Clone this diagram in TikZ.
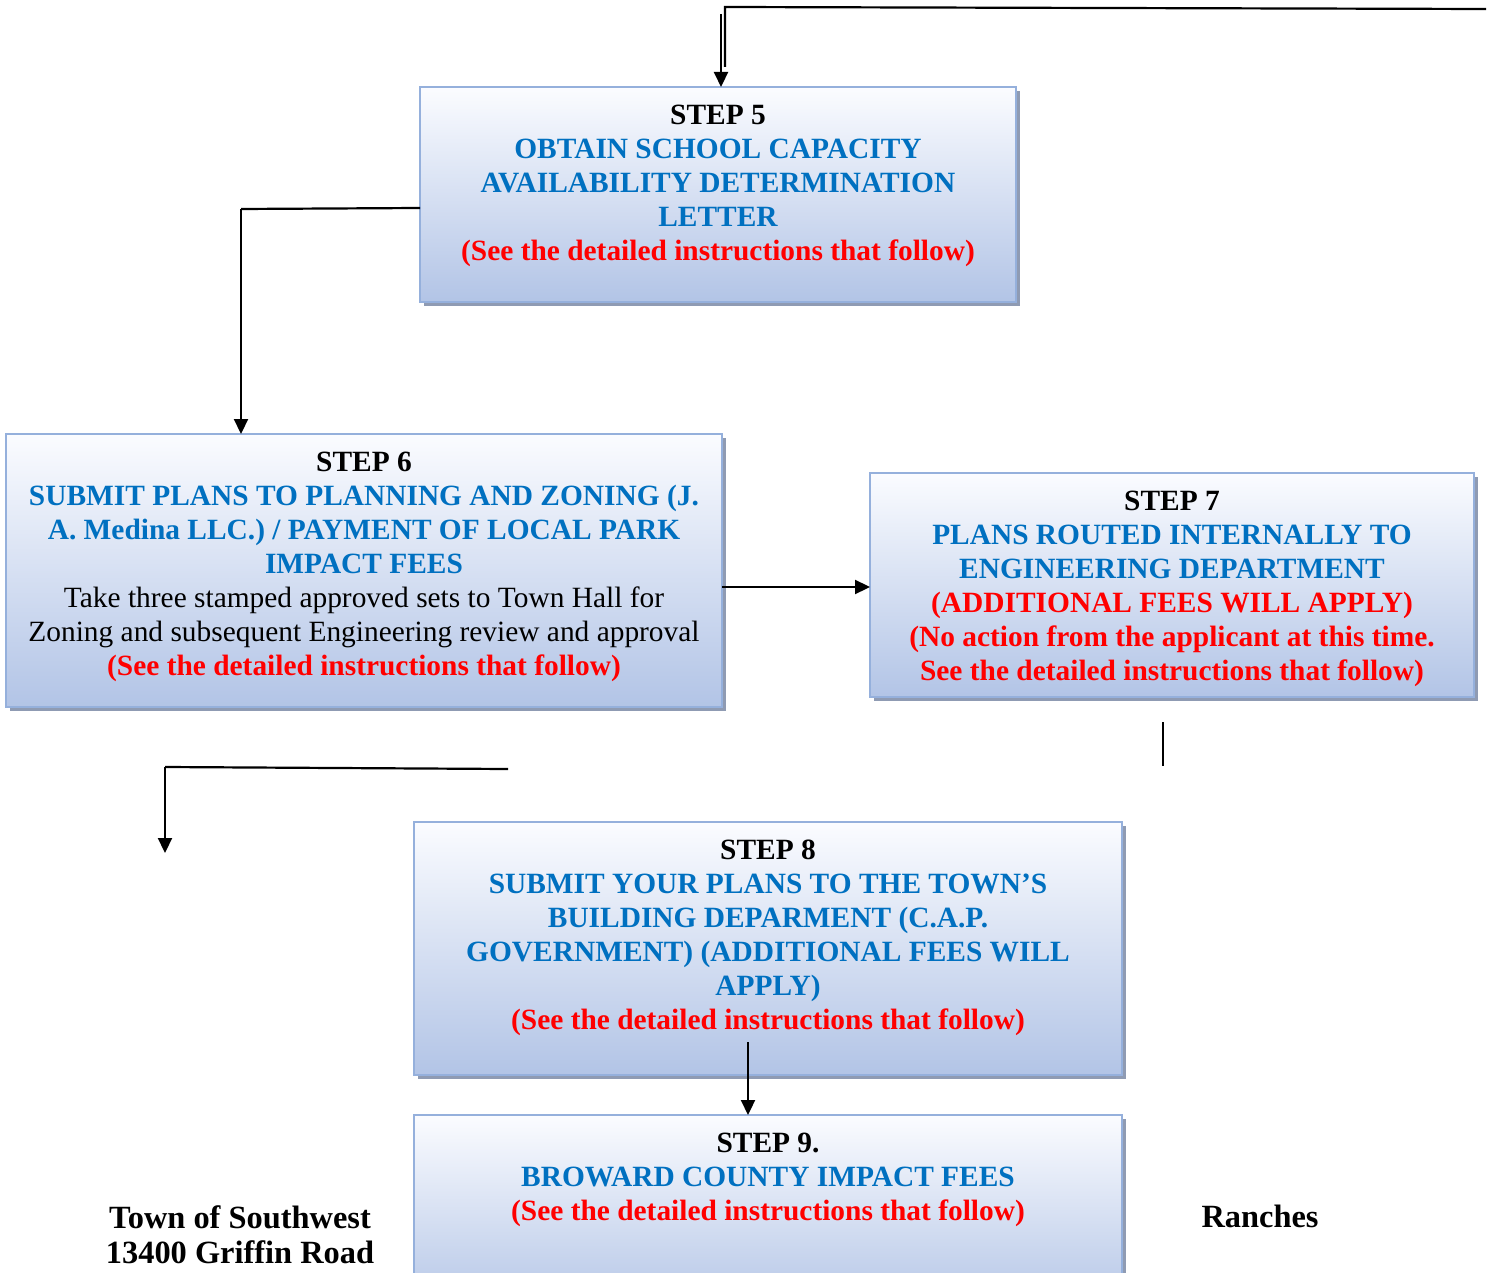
\documentclass[tikz,border=0pt]{standalone}
\usepackage{fontspec}
\setmainfont{Liberation Serif}
\usetikzlibrary{arrows.meta,shadows,calc}
\definecolor{tblue}{HTML}{0070C0}
\definecolor{tred}{HTML}{FF0000}
\definecolor{bborder}{HTML}{95B0DC}
\definecolor{btop}{HTML}{FBFCFF}
\definecolor{bbot}{HTML}{B2C4E6}
\definecolor{bshadow}{HTML}{8F9BB3}
\begin{document}
\begin{tikzpicture}[x=0.5pt,y=-0.5pt,
  stepbox/.style={draw=bborder, line width=1.2pt, top color=btop, bottom color=bbot,
    inner sep=0pt, outer sep=0pt, anchor=north west,
    drop shadow={shadow xshift=2pt, shadow yshift=-2pt, fill=bshadow, opacity=1}},
  steptext/.style={anchor=north, inner sep=0pt, align=center,
    font=\fontsize{14.7}{17}\selectfont\bfseries},
  addrtext/.style={anchor=north, inner sep=0pt, align=center,
    font=\fontsize{16.2}{17.5}\selectfont\bfseries},
  conn/.style={line width=1.1pt, draw=black},
  arr/.style={conn, -{Triangle[length=7.5pt,width=7pt]}},
]
\path[use as bounding box, clip] (0,0) rectangle (1491,1272);

% boxes
\node[stepbox, minimum width=298pt, minimum height=107.5pt] (s5) at (420,87) {};
\node[stepbox, minimum width=358pt, minimum height=136.5pt] (s6) at (6,434) {};
\node[stepbox, minimum width=302pt, minimum height=112pt] (s7) at (870,473) {};
\node[stepbox, minimum width=354pt, minimum height=126.5pt] (s8) at (414,822) {};
\node[stepbox, minimum width=354pt, minimum height=100pt] (s9) at (414,1115) {};

% texts
\node[steptext] (t5) at ($(s5.north)+(0,18)$) {STEP 5\\
  \textcolor{tblue}{OBTAIN SCHOOL CAPACITY}\\
  \textcolor{tblue}{AVAILABILITY DETERMINATION}\\
  \textcolor{tblue}{LETTER}\\
  \textcolor{tred}{(See the detailed instructions that follow)}};
\node[steptext] (t6) at ($(s6.north)+(0,18)$) {STEP 6\\
  \textcolor{tblue}{SUBMIT PLANS TO PLANNING AND ZONING (J.}\\
  \textcolor{tblue}{A. Medina LLC.) / PAYMENT OF LOCAL PARK}\\
  \textcolor{tblue}{IMPACT FEES}\\
  {\mdseries Take three stamped approved sets to Town Hall for}\\
  {\mdseries Zoning and subsequent Engineering review and approval}\\
  \textcolor{tred}{(See the detailed instructions that follow)}};
\node[steptext] (t7) at ($(s7.north)+(0,18)$) {STEP 7\\
  \textcolor{tblue}{PLANS ROUTED INTERNALLY TO}\\
  \textcolor{tblue}{ENGINEERING DEPARTMENT}\\
  \textcolor{tred}{(ADDITIONAL FEES WILL APPLY)}\\
  \textcolor{tred}{(No action from the applicant at this time.}\\
  \textcolor{tred}{See the detailed instructions that follow)}};
\node[steptext] (t8) at ($(s8.north)+(0,18)$) {STEP 8\\
  \textcolor{tblue}{SUBMIT YOUR PLANS TO THE TOWN’S}\\
  \textcolor{tblue}{BUILDING DEPARMENT (C.A.P.}\\
  \textcolor{tblue}{GOVERNMENT) (ADDITIONAL FEES WILL}\\
  \textcolor{tblue}{APPLY)}\\
  \textcolor{tred}{(See the detailed instructions that follow)}};
\node[steptext] (t9) at ($(s9.north)+(0,18)$) {STEP 9.\\
  \textcolor{tblue}{BROWARD COUNTY IMPACT FEES}\\
  \textcolor{tred}{(See the detailed instructions that follow)}};

\node[addrtext] (town) at (240,1205) {Town of Southwest\\13400 Griffin Road};
\node[addrtext] (ranch) at (1260,1205) {Ranches};

% connector coordinates
\coordinate (c0) at (1486,9);
\coordinate (c1) at (725,7);
\coordinate (c2) at (725,67);
\coordinate (c3) at (721,14);
\coordinate (k1) at (420,208);
\coordinate (k2) at (241,209);
\coordinate (m67) at (0,587);
\coordinate (f1) at (1163,722);
\coordinate (f2) at (1163,766);
\coordinate (g1) at (508,769);
\coordinate (g2) at (165,767);
\coordinate (g3) at (165,853);
\coordinate (h1) at (748,1042);

% connectors
\draw[conn] (c0) -- (c1) -- (c2);
\draw[arr] (c3) -- (c3 |- s5.north);
\draw[conn] (k1) -- (k2);
\draw[arr] (k2) -- (k2 |- s6.north);
\draw[arr] (s6.east |- m67) -- (s7.west |- m67);
\draw[conn] (f1) -- (f2);
\draw[conn] (g1) -- (g2);
\draw[arr] (g2) -- (g3);
\draw[arr] (h1) -- (h1 |- s9.north);
\end{tikzpicture}
\end{document}
